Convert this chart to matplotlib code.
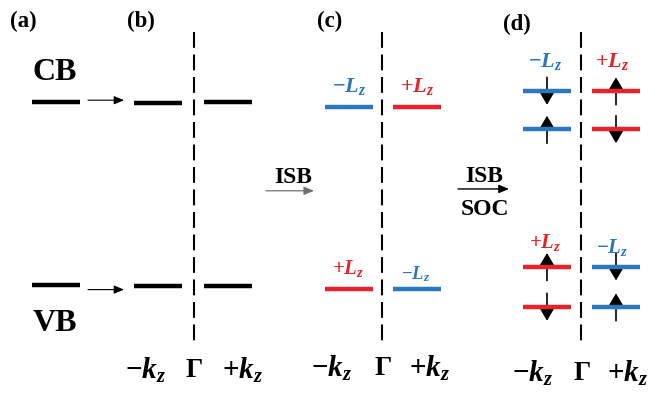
import matplotlib
matplotlib.use("Agg")
import matplotlib.pyplot as plt
from matplotlib.patches import FancyArrowPatch

plt.rcParams['mathtext.fontset'] = 'custom'
plt.rcParams['mathtext.rm'] = 'Liberation Serif:bold'
plt.rcParams['mathtext.it'] = 'Liberation Serif:italic:bold'
plt.rcParams['mathtext.bf'] = 'Liberation Serif:bold'
SERIF = 'Liberation Serif'

BLUE = '#2b78c0'
RED = '#e8222a'

# Energy levels (arbitrary units) for each panel
cb_a, vb_a = 1.0, -1.0
levels_b = {'cb': [0.99, 1.0], 'vb': [-1.01, -1.01]}
levels_c_top = [0.95, 0.95]          # [-kz, +kz]
levels_c_bot = [-1.04, -1.04]
levels_d_top = [1.12, 0.70]          # upper/lower split
levels_d_bot = [-0.80, -1.24]
# spin orientation per split level: +1 up, -1 down
spins_d_top_left = [-1, 1]
spins_d_top_right = [1, -1]
spins_d_bot_left = [1, -1]
spins_d_bot_right = [-1, 1]
# orbital labels
lz_c_top = [r'$-L_z$', r'$+L_z$']
lz_c_bot = [r'$+L_z$', r'$-L_z$']
kz_labels = [r'$-k_z$', 'Γ', r'$+k_z$']

fig = plt.figure(figsize=(6.49, 3.93), dpi=100)
ax = fig.add_axes([0, 0, 1, 1])
ax.set_xlim(0, 649)
ax.set_ylim(-2.18, 2.115)
ax.axis('off')

HW = 24  # half width of a level bar


def level(x, e, color, lw=3.2):
    ax.plot([x - HW, x + HW], [e, e], color=color, lw=lw, solid_capstyle='butt')


def spin(x, e, s, length=0.30):
    y0 = e - s * length / 2
    y1 = e + s * length / 2
    ax.add_patch(FancyArrowPatch((x, y0), (x, y1), arrowstyle='-|>,head_length=0.85,head_width=0.5',
                                 mutation_scale=10, color='black', lw=1.2, shrinkA=0, shrinkB=0))


def gamma_line(x):
    ax.plot([x, x], [1.77, -1.65], color='black', lw=1.5, dashes=(7.6, 3.2))


def arrow(x0, x1, e, color='black', lw=0.8):
    ax.add_patch(FancyArrowPatch((x0, e), (x1, e), arrowstyle='-|>,head_length=0.6,head_width=0.25',
                                 mutation_scale=10, color=color, lw=lw, shrinkA=0, shrinkB=0))


def txt(x, e, s, size, color='black', **kw):
    ax.text(x, e, s, fontsize=size, color=color, ha='center', va='center',
            family=SERIF, fontweight='bold', **kw)


# panel labels
txt(23, 1.885, '(a)', 16.5)
txt(141, 1.885, '(b)', 16.5)
txt(330, 1.885, '(c)', 16.5)
txt(517, 1.85, '(d)', 16.5)

# (a)
level(56, cb_a, 'black')
level(56, vb_a, 'black')
txt(55, 1.32, 'CB', 23)
txt(55, -1.425, 'VB', 23)
arrow(88, 124, cb_a + 0.02)
arrow(88, 124, vb_a - 0.05)

# (b)
xb = [158, 228]
for x, ec, ev in zip(xb, levels_b['cb'], levels_b['vb']):
    level(x, ec, 'black')
    level(x, ev, 'black')
gamma_line(194)
kz_sizes = [21, 19.5, 21]
for x, s, fs in zip([146, 194, 243], kz_labels, kz_sizes):
    txt(x, -1.93, s, fs)

# (c)
xc = [349, 417]
cols_top = [BLUE, RED]
cols_bot = [RED, BLUE]
for i, x in enumerate(xc):
    level(x, levels_c_top[i], cols_top[i])
    level(x, levels_c_bot[i], cols_bot[i])
    txt(x, levels_c_top[i] + 0.22, lz_c_top[i], 16, cols_top[i])
txt(348, levels_c_bot[0] + 0.22, lz_c_bot[0], 15, cols_bot[0])
txt(416, levels_c_bot[1] + 0.16, lz_c_bot[1], 13.5, cols_bot[1])
gamma_line(382)
for x, s, fs in zip([332, 383, 430], kz_labels, kz_sizes):
    txt(x, -1.91, s, fs)
txt(293, 0.17, 'ISB', 17)
arrow(266, 314, 0.03, color='#707070', lw=0.9)

# (d)
xd = [547, 616]
for e, s in zip(levels_d_top, spins_d_top_left):
    level(xd[0], e, BLUE)
    spin(xd[0], e, s)
for e, s in zip(levels_d_top, spins_d_top_right):
    level(xd[1], e, RED)
    spin(xd[1], e, s)
for e, s in zip(levels_d_bot, spins_d_bot_left):
    level(xd[0], e, RED)
    spin(xd[0], e, s)
for e, s in zip(levels_d_bot, spins_d_bot_right):
    level(xd[1], e, BLUE)
    spin(xd[1], e, s)
txt(545, levels_d_top[0] + 0.32, r'$-L_z$', 16, BLUE)
txt(612, levels_d_top[0] + 0.32, r'$+L_z$', 16, RED)
txt(545, levels_d_bot[0] + 0.27, r'$+L_z$', 15, RED)
txt(612, levels_d_bot[0] + 0.21, r'$-L_z$', 15, BLUE)
gamma_line(581)
for x, s, fs in zip([533, 582, 628], kz_labels, kz_sizes):
    txt(x, -1.97, s, fs)
txt(484, 0.19, 'ISB', 17)
arrow(458, 509, 0.05, lw=1.0)
txt(485, -0.18, 'SOC', 17)

fig.savefig('out.png', dpi=100)
